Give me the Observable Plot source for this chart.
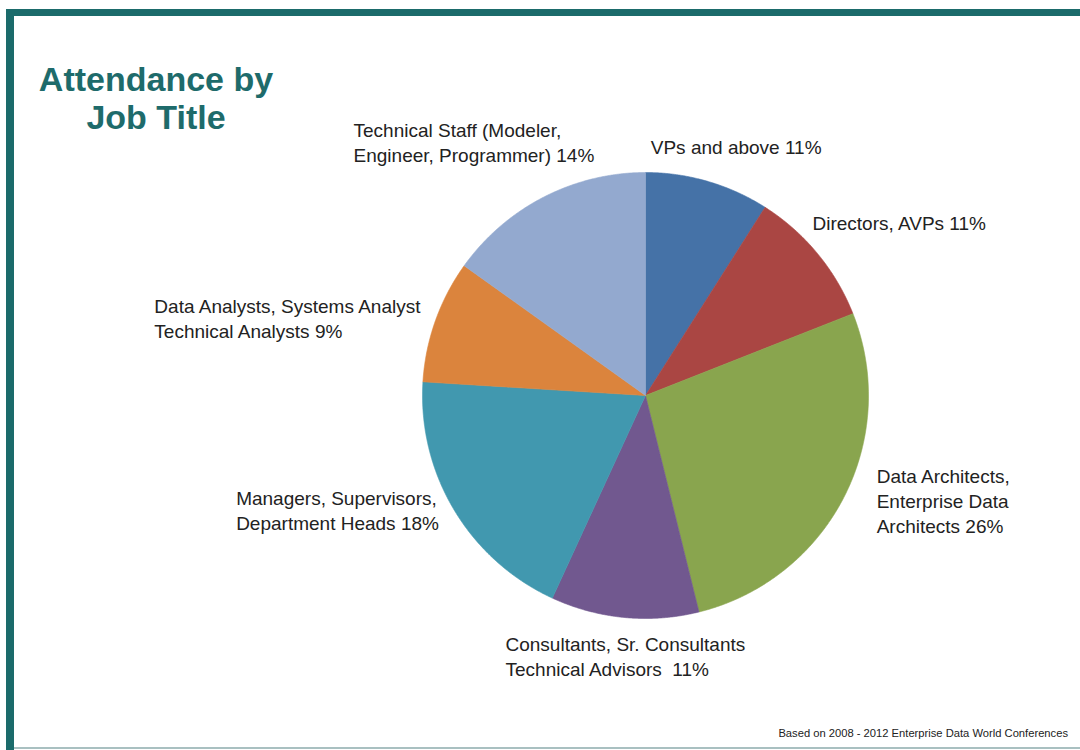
<!DOCTYPE html>
<html>
<head>
<meta charset="utf-8">
<script src="https://cdn.jsdelivr.net/npm/d3@7"></script>
<script src="https://cdn.jsdelivr.net/npm/@observablehq/plot@0.6"></script>
<style>
  html, body { margin: 0; padding: 0; background: #fff; }
  #page { position: relative; width: 1080px; height: 750px; overflow: hidden; font-family: "Liberation Sans", Arial, sans-serif; }
  #topbar { position: absolute; left: 6px; top: 9px; width: 1074px; height: 7px; background: #1b6b6b; }
  #leftbar { position: absolute; left: 6px; top: 9px; width: 8px; height: 741px; background: #1b6b6b; }
  #bottomline { position: absolute; left: 14px; top: 747px; width: 1066px; height: 2px; background: #a9c0c1; }
  #title { position: absolute; left: 20px; top: 60px; width: 272px; text-align: center; color: #1e6b6b;
           font-weight: bold; font-size: 34px; line-height: 38px; }
  #note { position: absolute; right: 12px; top: 727px; font-size: 11.2px; color: #222; }
  #chart { position: absolute; left: 0; top: 0; }
</style>
</head>
<body>
<div id="page">
  <div id="chart"></div>
  <div id="topbar"></div>
  <div id="leftbar"></div>
  <div id="bottomline"></div>
  <div id="title">Attendance by<br>Job Title</div>
  <div id="note">Based on 2008 - 2012 Enterprise Data World Conferences</div>
</div>
<script>
// ---- data (clockwise from 12 o'clock) ----
const categories = [
  "VPs and above",
  "Directors, AVPs",
  "Data Architects, Enterprise Data Architects",
  "Consultants, Sr. Consultants, Technical Advisors",
  "Managers, Supervisors, Department Heads",
  "Data Analysts, Systems Analyst, Technical Analysts",
  "Technical Staff (Modeler, Engineer, Programmer)"
];
// slice sizes as drawn in the picture (share of the circle, %)
const sliceShares = [9.0, 10.0, 27.1, 10.7, 19.1, 8.9, 15.1];
// percentages printed in the labels
const labelTexts = [
  "VPs and above 11%",
  "Directors, AVPs 11%",
  "Data Architects,\nEnterprise Data\nArchitects 26%",
  "Consultants, Sr. Consultants\nTechnical Advisors\u00a0\u00a011%",
  "Managers, Supervisors,\nDepartment Heads 18%",
  "Data Analysts, Systems Analyst\nTechnical Analysts 9%",
  "Technical Staff (Modeler,\nEngineer, Programmer) 14%"
];
const sliceColors = ["#4572a7", "#aa4643", "#89a54e", "#71588f", "#4198af", "#db843d", "#93a9cf"];

// ---- layout ----
const W = 1080, H = 750, cx = 645, cy = 395, R = 223;
const labelOffsets = [[-57, -45], [-5, -41], [33, -33], [-119, 16], [-218, -23], [-281, -26], [-190, -78]];

const pie = d3.pie().sort(null).value(d => d.share);
const arcs = pie(categories.map((c, i) => ({name: c, share: sliceShares[i], label: labelTexts[i]})));

// polygon outline of each slice in unit-circle coordinates (angle 0 = up, clockwise)
const slicePts = [];
for (const a of arcs) {
  const n = Math.max(2, Math.ceil((a.endAngle - a.startAngle) / (Math.PI / 720)));
  slicePts.push({name: a.data.name, x: 0, y: 0});
  for (let k = 0; k <= n; k++) {
    const t = a.startAngle + (a.endAngle - a.startAngle) * k / n;
    slicePts.push({name: a.data.name, x: Math.sin(t), y: Math.cos(t)});
  }
  slicePts.push({name: a.data.name, x: 0, y: 0});
}

const labelMarks = arcs.map((a, i) => {
  const mid = (a.startAngle + a.endAngle) / 2;
  return Plot.text([a], {
    x: () => Math.sin(mid),
    y: () => Math.cos(mid),
    text: d => d.data.label,
    textAnchor: "start",
    lineAnchor: "top",
    lineHeight: 1.32,
    fontSize: 19,
    fill: "#222",
    dx: labelOffsets[i][0],
    dy: labelOffsets[i][1]
  });
});

const chart = Plot.plot({
  width: W,
  height: H,
  margin: 0,
  style: {fontFamily: "'Liberation Sans', Arial, sans-serif", background: "transparent"},
  x: {domain: [-cx / R, (W - cx) / R], axis: null},
  y: {domain: [-(H - cy) / R, cy / R], axis: null},
  color: {domain: categories, range: sliceColors},
  marks: [
    Plot.line(slicePts, {x: "x", y: "y", z: "name", fill: "name", stroke: "name", strokeWidth: 0.6, curve: "linear"}),
    ...labelMarks
  ]
});
document.getElementById("chart").appendChild(chart);
</script>
</body>
</html>
